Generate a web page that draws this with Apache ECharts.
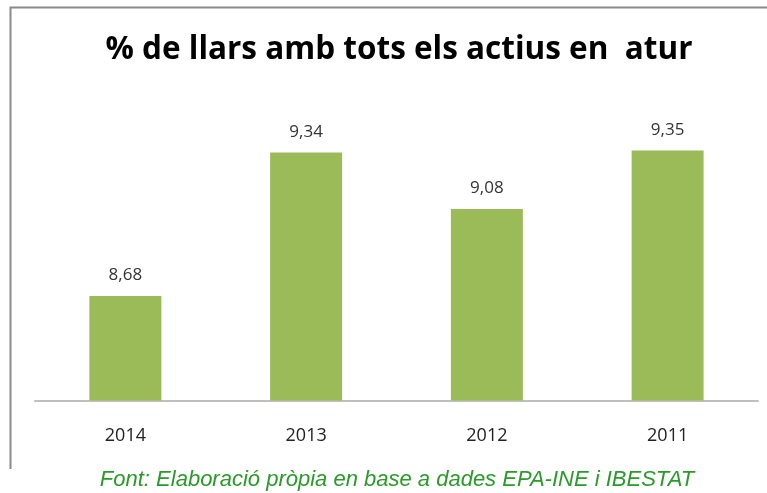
<!DOCTYPE html>
<html>
<head>
<meta charset="utf-8">
<script src="https://cdn.jsdelivr.net/npm/echarts@6/dist/echarts.min.js"></script>
<style>
  html, body { margin: 0; padding: 0; background: #fff; }
  #chart { width: 767px; height: 493px; }
</style>
</head>
<body>
<div id="chart"></div>
<script>
// data
const years = ["2014", "2013", "2012", "2011"];
const values = [8.68, 9.34, 9.08, 9.35];
const titleText = "% de llars amb tots els actius en  atur";
const sourceText = "Font: Elaboració pròpia en base a dades EPA-INE i IBESTAT";

let chart = echarts.init(document.getElementById("chart"));
chart.setOption({
  animation: false,
  title: {
    text: titleText,
    left: 394,
    top: 29,
    textAlign: "center",
    textStyle: {
      fontFamily: "Open Sans",
      fontWeight: "bold",
      fontSize: 31.5,
      color: "#000"
    }
  },
  grid: { left: 35, right: 9, top: 96, bottom: 92.5 },
  xAxis: {
    type: "category",
    data: years,
    axisTick: { show: false },
    axisLine: { lineStyle: { color: "#bfbfbf", width: 2 } },
    axisLabel: {
      margin: 26,
      fontFamily: "Open Sans",
      fontSize: 18,
      color: "#222"
    }
  },
  yAxis: {
    type: "value",
    min: 8.2,
    max: 9.6,
    show: false,
    splitLine: { show: false }
  },
  series: [
    {
      type: "bar",
      data: values,
      barWidth: 72,
      itemStyle: { color: "#9bbb59" },
      label: {
        show: true,
        position: "top",
        distance: 12,
        fontFamily: "Open Sans",
        fontSize: 17,
        color: "#333",
        formatter: p => p.value.toFixed(2).replace(".", ",")
      }
    }
  ],
  graphic: [
    {
      type: "polyline",
      shape: { points: [[10.5, 469], [10.5, 7.5], [767, 7.5]] },
      style: { stroke: "#8a8a8a", lineWidth: 2, fill: null }
    },
    {
      type: "text",
      x: 397,
      y: 469,
      style: {
        text: sourceText,
        align: "center",
        fontFamily: "Liberation Sans",
        fontStyle: "italic",
        fontSize: 22,
        fill: "#2a9a2a"
      }
    }
  ]
});
</script>
</body>
</html>
